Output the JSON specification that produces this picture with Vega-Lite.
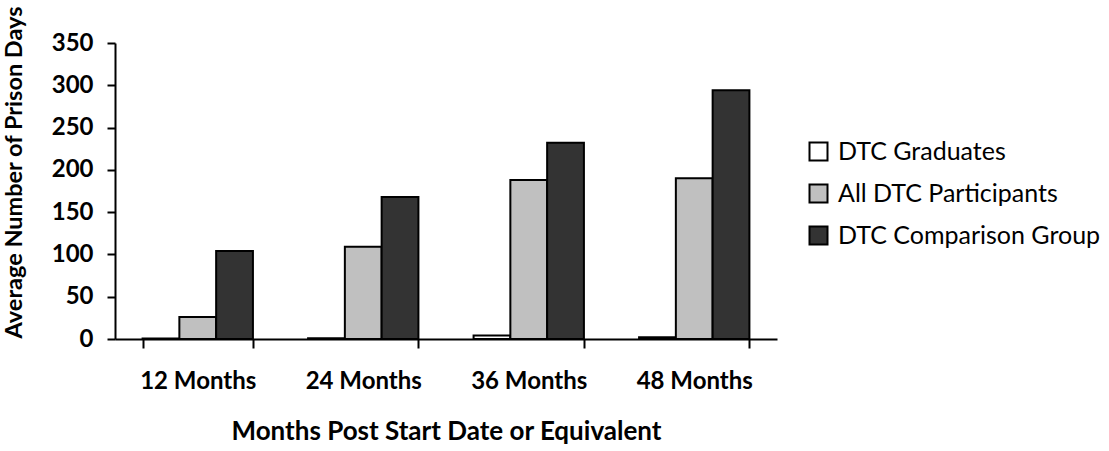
{
  "$schema": "https://vega.github.io/schema/vega-lite/v6.json",
  "width": 662,
  "height": 296,
  "autosize": {"type": "none"},
  "padding": {"left": 115, "top": 43, "right": 332, "bottom": 112},
  "background": "white",
  "config": {
    "view": {"stroke": null},
    "font": "Lato"
  },
  "data": {
    "values": [
      {"period": "12 Months", "group": "DTC Graduates", "days": 0.5},
      {"period": "12 Months", "group": "All DTC Participants", "days": 26},
      {"period": "12 Months", "group": "DTC Comparison Group", "days": 104},
      {"period": "24 Months", "group": "DTC Graduates", "days": 1},
      {"period": "24 Months", "group": "All DTC Participants", "days": 109},
      {"period": "24 Months", "group": "DTC Comparison Group", "days": 168},
      {"period": "36 Months", "group": "DTC Graduates", "days": 4},
      {"period": "36 Months", "group": "All DTC Participants", "days": 188},
      {"period": "36 Months", "group": "DTC Comparison Group", "days": 232},
      {"period": "48 Months", "group": "DTC Graduates", "days": 2},
      {"period": "48 Months", "group": "All DTC Participants", "days": 190},
      {"period": "48 Months", "group": "DTC Comparison Group", "days": 294}
    ]
  },
  "mark": {"type": "bar", "stroke": "black", "strokeWidth": 2},
  "encoding": {
    "x": {
      "field": "period",
      "type": "nominal",
      "sort": null,
      "scale": {"paddingInner": 0.3333, "paddingOuter": 0.1667},
      "axis": {
        "title": "Months Post Start Date or Equivalent",
        "titleFont": "Lato",
        "titleFontSize": 26,
        "titleFontWeight": "bold",
        "titleColor": "black",
        "titlePadding": 25,
        "labelAngle": 0,
        "labelFontSize": 24,
        "labelFontWeight": "bold",
        "labelColor": "black",
        "labelPadding": 21,
        "tickBand": "extent",
        "tickColor": "black",
        "tickWidth": 2,
        "tickSize": 9,
        "domainColor": "black",
        "domainWidth": 2,
        "grid": false
      }
    },
    "xOffset": {
      "field": "group",
      "type": "nominal",
      "sort": ["DTC Graduates", "All DTC Participants", "DTC Comparison Group"],
      "scale": {"paddingInner": 0, "paddingOuter": 0}
    },
    "y": {
      "field": "days",
      "type": "quantitative",
      "scale": {"domain": [0, 350], "nice": false},
      "axis": {
        "values": [0, 50, 100, 150, 200, 250, 300, 350],
        "title": "Average Number of Prison Days",
        "titleFont": "Lato",
        "titleFontSize": 23.5,
        "titleFontWeight": "bold",
        "titleColor": "black",
        "titleX": -101,
        "titleY": 129,
        "titleAlign": "center",
        "titleBaseline": "middle",
        "titleAngle": -90,
        "labelFontSize": 24,
        "labelFontWeight": "bold",
        "labelColor": "black",
        "labelPadding": 14,
        "tickColor": "black",
        "tickWidth": 2,
        "tickSize": 8,
        "domainColor": "black",
        "domainWidth": 2,
        "grid": false
      }
    },
    "fill": {
      "field": "group",
      "type": "nominal",
      "sort": ["DTC Graduates", "All DTC Participants", "DTC Comparison Group"],
      "scale": {
        "domain": ["DTC Graduates", "All DTC Participants", "DTC Comparison Group"],
        "range": ["#FFFFFF", "#C0C0C0", "#333333"]
      },
      "legend": {
        "title": null,
        "orient": "none",
        "legendX": 691,
        "legendY": 96,
        "symbolType": "square",
        "symbolSize": 324,
        "symbolStrokeColor": "black",
        "symbolStrokeWidth": 2,
        "symbolOpacity": 1,
        "labelFontSize": 25,
        "labelColor": "black",
        "labelFont": "Lato",
        "labelOffset": 7,
        "labelLimit": 400,
        "rowPadding": 15
      }
    }
  }
}
